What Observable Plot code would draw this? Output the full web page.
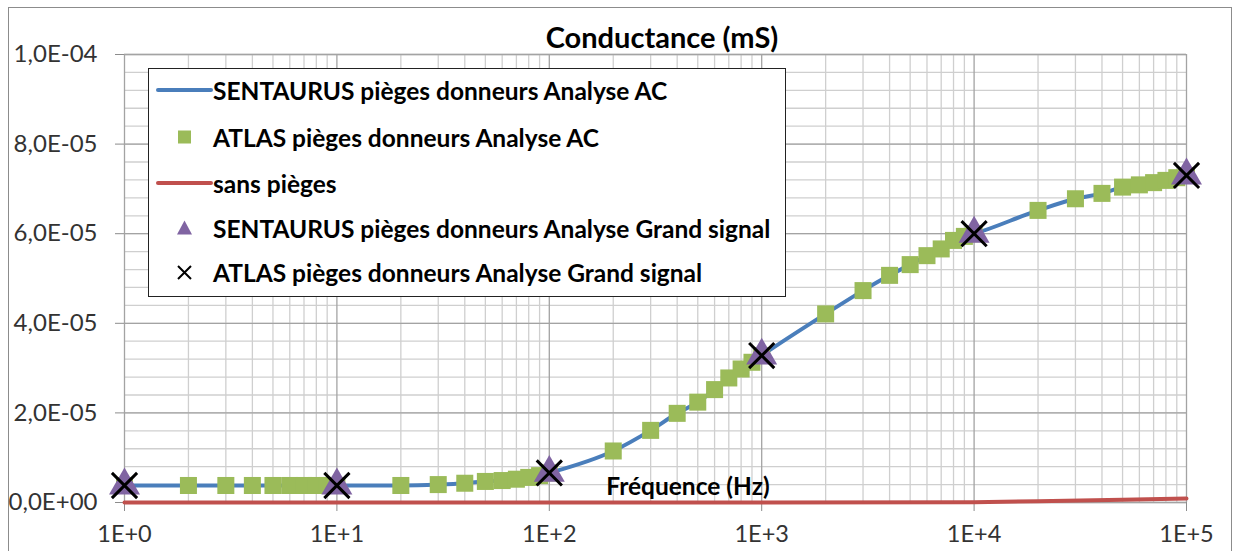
<!DOCTYPE html>
<html><head><meta charset="utf-8">
<script src="https://cdn.jsdelivr.net/npm/d3@7"></script>
<script src="https://cdn.jsdelivr.net/npm/@observablehq/plot@0.6"></script>
<style>
html,body{margin:0;padding:0;background:#fff;}
body{width:1233px;height:551px;overflow:hidden;position:relative;font-family:Lato,sans-serif;color:#000;}
#border{position:absolute;left:8px;top:7px;width:1224px;height:560px;border:1.5px solid #8c8c8c;box-sizing:border-box;}
#chart{position:absolute;left:0;top:0;}
#title{position:absolute;left:412px;width:500px;top:20px;text-align:center;font-weight:700;font-size:29px;line-height:34px;}
#xlabel{position:absolute;left:538px;width:300px;top:471px;text-align:center;font-weight:700;font-size:24.5px;line-height:30px;}
#legend{position:absolute;left:148px;top:68px;width:638px;height:229px;border:1.5px solid #222;background:#fff;box-sizing:border-box;}
.row{position:absolute;left:0;height:30px;display:flex;align-items:center;font-weight:700;font-size:24.5px;white-space:nowrap;}
.row svg{width:60px;height:30px;flex:none;margin-left:4px;}
</style>
</head><body>
<div id="border"></div>
<div id="chart"></div>
<div id="title">Conductance (mS)</div>
<div id="xlabel">Fréquence (Hz)</div>
<div id="legend"></div>
<script>
// ---- data ----
const freq = [1,2,3,4,5,6,7,8,9,10,20,30,40,50,60,70,80,90,100,200,300,400,500,600,700,800,900,1000,2000,3000,4000,5000,6000,7000,8000,9000,10000,20000,30000,40000,50000,60000,70000,80000,90000,100000];
const sentaurusAC = [3.8e-6,3.8e-6,3.8e-6,3.8e-6,3.8e-6,3.8e-6,3.8e-6,3.8e-6,3.8e-6,3.8e-6,3.8e-6,4.0e-6,4.3e-6,4.7e-6,4.9e-6,5.2e-6,5.6e-6,6.0e-6,6.6e-6,11.5e-6,16.1e-6,19.9e-6,22.4e-6,25.2e-6,27.8e-6,29.8e-6,31.3e-6,32.8e-6,42.1e-6,47.3e-6,50.7e-6,53.1e-6,55.1e-6,56.6e-6,58.5e-6,59.4e-6,60.0e-6,65.2e-6,67.8e-6,69.0e-6,70.4e-6,70.9e-6,71.4e-6,71.9e-6,72.5e-6,73.0e-6];
const atlasAC = [3.8e-6,3.8e-6,3.8e-6,3.8e-6,3.8e-6,3.8e-6,3.8e-6,3.8e-6,3.8e-6,3.8e-6,3.8e-6,4.0e-6,4.3e-6,4.7e-6,4.9e-6,5.2e-6,5.6e-6,6.0e-6,6.6e-6,11.5e-6,16.1e-6,19.9e-6,22.4e-6,25.2e-6,27.8e-6,29.8e-6,31.3e-6,32.8e-6,42.1e-6,47.3e-6,50.7e-6,53.1e-6,55.1e-6,56.6e-6,58.5e-6,59.4e-6,60.0e-6,65.2e-6,67.8e-6,69.0e-6,70.4e-6,70.9e-6,71.4e-6,71.9e-6,72.5e-6,73.0e-6];
const sansPiegesFreq = [1,10,100,1000,10000,20000,50000,100000];
const sansPieges = [0,0,0,0,0.07e-6,0.3e-6,0.6e-6,0.9e-6];
const grandSignalFreq = [1,10,100,1000,10000,100000];
const sentaurusGS = [3.8e-6,3.8e-6,6.6e-6,32.8e-6,60.0e-6,73.0e-6];
const atlasGS = [3.8e-6,3.8e-6,6.6e-6,32.8e-6,60.0e-6,73.0e-6];
const xTicks = [1,10,100,1000,10000,100000];
const xTickLabels = ["1E+0","1E+1","1E+2","1E+3","1E+4","1E+5"];
const yTicks = [0,2e-5,4e-5,6e-5,8e-5,1e-4];
const yTickLabels = ["0,0E+00","2,0E-05","4,0E-05","6,0E-05","8,0E-05","1,0E-04"];
const seriesNames = ["SENTAURUS pièges donneurs Analyse AC","ATLAS pièges donneurs Analyse AC","sans pièges","SENTAURUS pièges donneurs Analyse Grand signal","ATLAS pièges donneurs Analyse Grand signal"];
const colors = {blue:"#4a7ebb", green:"#9bbb59", red:"#c0504d", purple:"#8064a2", black:"#000"};

// tables
const acRows = freq.map((f,i)=>({f, s: sentaurusAC[i], a: atlasAC[i]}));
const redRows = sansPiegesFreq.map((f,i)=>({f, v: sansPieges[i]}));
const gsRows = grandSignalFreq.map((f,i)=>({f, s: sentaurusGS[i], a: atlasGS[i]}));
const xMinor = d3.range(0,5).flatMap(k => d3.range(2,10).map(m => m*Math.pow(10,k)));
const yMinor = d3.range(0,26).map(i => i*4e-6);

const plot = Plot.plot({
  width: 1233, height: 551,
  marginLeft: 124, marginRight: 47, marginTop: 54, marginBottom: 49,
  x: {type: "log", domain: [1, 1e5]},
  y: {domain: [0, 1e-4]},
  style: {fontFamily: "Lato, sans-serif", background: "transparent", overflow: "visible"},
  marks: [
    Plot.ruleX(xMinor, {stroke: "#cfcfcf", strokeWidth: 1.3}),
    Plot.ruleY(yMinor, {stroke: "#cfcfcf", strokeWidth: 1.3}),
    Plot.ruleX(xTicks, {stroke: "#a3a3a3", strokeWidth: 1.3}),
    Plot.ruleY(yTicks, {stroke: "#a3a3a3", strokeWidth: 1.3}),
    Plot.axisY({ticks: yTicks, tickFormat: d => yTickLabels[yTicks.indexOf(d)], tickSize: 9, tickPadding: 18, fontSize: 24, fill: "#333", stroke: "#8c8c8c", label: null}),
    Plot.axisX({ticks: xTicks, tickFormat: d => xTickLabels[xTicks.indexOf(d)], tickSize: 9, tickPadding: 14, fontSize: 23.5, fill: "#333", stroke: "#8c8c8c", label: null}),
    Plot.line(acRows, {x: "f", y: "s", stroke: colors.blue, strokeWidth: 4, curve: "monotone-x"}),
    Plot.line(redRows, {x: "f", y: "v", stroke: colors.red, strokeWidth: 4}),
    Plot.dot(acRows, {x: "f", y: "a", symbol: "square", r: 9.6, fill: colors.green}),
    Plot.dot(gsRows, {x: "f", y: "s", symbol: "triangle", r: 11.5, fill: colors.purple}),
    Plot.dot(gsRows, {x: "f", y: "a", symbol: "times", r: 11.5, stroke: colors.black, strokeWidth: 3})
  ]
});
document.getElementById("chart").appendChild(plot);

// legend
const legend = document.getElementById("legend");
const rowTops = [6, 53, 99, 144, 188];
const symbols = [
  '<line x1="5" x2="58" y1="15" y2="15" stroke="'+colors.blue+'" stroke-width="4" stroke-linecap="round"/>',
  '<rect x="25" y="8.5" width="13" height="13" fill="'+colors.green+'"/>',
  '<line x1="5" x2="58" y1="15" y2="15" stroke="'+colors.red+'" stroke-width="4" stroke-linecap="round"/>',
  '<path d="M31.5 7.5 L39 21.5 L24 21.5 Z" fill="'+colors.purple+'"/>',
  '<path d="M25 9 L38 22 M38 9 L25 22" stroke="#000" stroke-width="2"/>'
];
seriesNames.forEach((name,i)=>{
  const r = document.createElement("div");
  r.className = "row";
  r.style.top = rowTops[i]+"px";
  r.innerHTML = '<svg viewBox="0 0 60 30">'+symbols[i]+'</svg><span>'+name+'</span>';
  legend.appendChild(r);
});
</script>
</body></html>
